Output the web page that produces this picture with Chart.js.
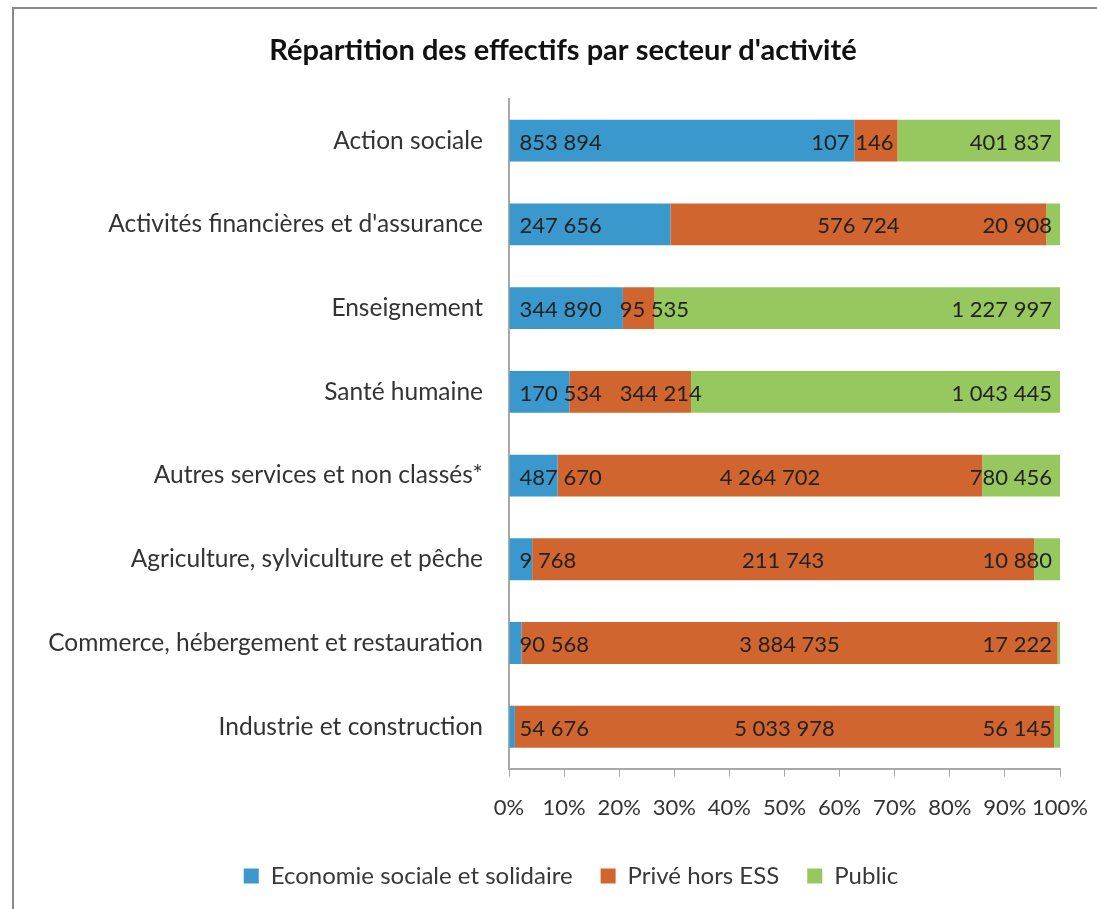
<!DOCTYPE html>
<html>
<head>
<meta charset="utf-8">
<script src="https://cdn.jsdelivr.net/npm/chart.js@4"></script>
<style>
  html, body { margin: 0; padding: 0; background: #fff; }
  #wrap { position: relative; width: 1097px; height: 909px; }
  #frame { position: absolute; left: 12px; top: 7px; right: 0; bottom: 0;
           border-top: 2px solid #8a8a8a; border-left: 2px solid #8a8a8a; pointer-events: none; }
</style>
</head>
<body>
<div id="wrap">
  <canvas id="chart" width="1097" height="909"></canvas>
  <div id="frame"></div>
</div>
<script>
const secteurs = [
    "Action sociale",
    "Activités financières et d'assurance",
    "Enseignement",
    "Santé humaine",
    "Autres services et non classés*",
    "Agriculture, sylviculture et pêche",
    "Commerce, hébergement et restauration",
    "Industrie et construction"
];
const ess = [853894, 247656, 344890, 170534, 487670, 9768, 90568, 54676];
const prive = [107146, 576724, 95535, 344214, 4264702, 211743, 3884735, 5033978];
const publicVals = [401837, 20908, 1227997, 1043445, 780456, 10880, 17222, 56145];
const xTicks = [0, 10, 20, 30, 40, 50, 60, 70, 80, 90, 100];

const totals = secteurs.map((s, i) => ess[i] + prive[i] + publicVals[i]);
function pct(arr) {
    return arr.map((v, i) => v / totals[i] * 100);
}
function fmt(v) {
    return String(v).replace(/\B(?=(\d{3})+(?!\d))/g, " ");
}

const FONT = "Lato, 'Open Sans', sans-serif";
const PAD_LEFT = 40;

// labels inside the bars: first series at the start, second centered, third at the end
const barLabels = {
    id: "barLabels",
    afterLayout(chart) {
        // the original title and legend sit a bit right of the canvas centre
        let t = chart.titleBlock, l = chart.legend;
        t.left += 13; t.right += 13;
        l.left += 21; l.right += 21;
        l.top -= 4; l.bottom -= 4;
    },
    afterDatasetsDraw(chart) {
        let ctx = chart.ctx;
        ctx.save();
        ctx.font = "22px " + FONT;
        ctx.fillStyle = "#222";
        ctx.textBaseline = "middle";
        let firstEnd = [];
        chart.data.datasets.forEach((ds, di) => {
            let meta = chart.getDatasetMeta(di);
            meta.data.forEach((bar, i) => {
                let txt = fmt(ds.raw[i]);
                let w = ctx.measureText(txt).width;
                let left = Math.min(bar.base, bar.x);
                let right = Math.max(bar.base, bar.x);
                let y = bar.y + 2;
                ctx.textAlign = "left";
                if (di == 0) {
                    ctx.fillText(txt, left + 10, y);
                    firstEnd[i] = left + 10 + w;
                } else if (di == 1) {
                    let x0 = w > right - left ? right - 4 - w : (left + right - w) / 2;
                    x0 = Math.max(x0, firstEnd[i] + 18);
                    ctx.fillText(txt, x0, y);
                } else {
                    ctx.textAlign = "right";
                    ctx.fillText(txt, Math.min(right, chart.chartArea.right) - 8, y);
                }
            });
        });
        ctx.restore();
    }
};

let ctx = document.getElementById("chart").getContext("2d");
new Chart(ctx, {
    type: "bar",
    data: {
        labels: secteurs,
        datasets: [
            {
                label: "Economie sociale et solidaire",
                data: pct(ess),
                raw: ess,
                backgroundColor: "#3a98cd"
            },
            {
                label: "Privé hors ESS",
                data: pct(prive),
                raw: prive,
                backgroundColor: "#d0652f"
            },
            {
                label: "Public",
                data: pct(publicVals),
                raw: publicVals,
                backgroundColor: "#97c85f"
            }
        ]
    },
    options: {
        indexAxis: "y",
        responsive: false,
        animation: false,
        barPercentage: 0.5,
        categoryPercentage: 1.0,
        layout: { padding: { left: PAD_LEFT, right: 37, top: 0, bottom: 7 } },
        plugins: {
            title: {
                display: true,
                text: "Répartition des effectifs par secteur d'activité",
                color: "#111",
                font: { family: FONT, size: 29, weight: "bold" },
                padding: { top: 33, bottom: 31 }
            },
            legend: {
                position: "bottom",
                labels: {
                    color: "#383838",
                    font: { family: FONT, size: 24 },
                    boxWidth: 15,
                    boxHeight: 15,
                    padding: 28
                }
            },
            tooltip: { enabled: false }
        },
        scales: {
            x: {
                stacked: true,
                min: 0,
                max: 100,
                afterBuildTicks: axis => { axis.ticks = xTicks.map(v => ({ value: v })); },
                afterFit: axis => { axis.paddingLeft = 0; axis.paddingRight = 0; },
                ticks: {
                    callback: v => v + "%",
                    color: "#333",
                    font: { family: FONT, size: 22 },
                    padding: 18.5,
                    maxRotation: 0,
                    autoSkip: false
                },
                grid: { drawOnChartArea: false, drawTicks: true, tickLength: 8, color: "#a8a8a8" },
                border: { display: true, color: "#a8a8a8", width: 2 }
            },
            y: {
                stacked: true,
                afterFit: axis => { axis.width = 509 - PAD_LEFT; },
                ticks: {
                    color: "#333",
                    font: { family: FONT, size: 24.5 },
                    padding: 18
                },
                grid: { display: false },
                border: { display: true, color: "#a8a8a8", width: 2 }
            }
        }
    },
    plugins: [barLabels]
});
</script>
</body>
</html>
